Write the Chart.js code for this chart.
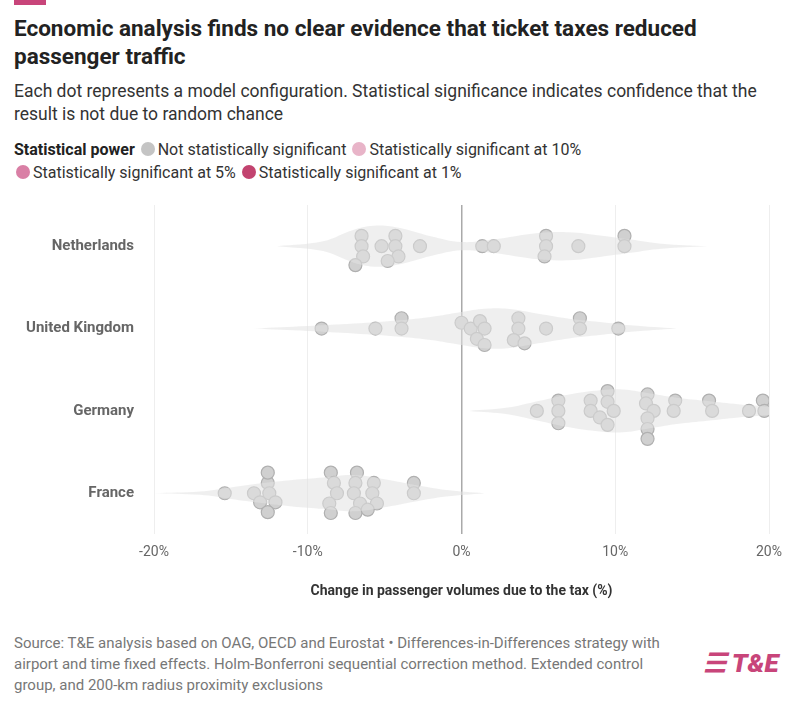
<!DOCTYPE html>
<html><head><meta charset="utf-8">
<script src="https://cdn.jsdelivr.net/npm/chart.js@4/dist/chart.umd.min.js"></script>
<style>
body{margin:0;width:800px;height:707px;font-family:Roboto,sans-serif;background:#fff;position:relative;overflow:hidden}
.bar{position:absolute;left:14px;top:0;width:32px;height:5px;background:#c8457a}
h1{position:absolute;left:14px;top:14px;margin:0;font-size:22.5px;line-height:28px;font-weight:700;color:#222;width:780px}
.sub{position:absolute;left:14px;top:80px;font-size:17.5px;line-height:23px;color:#333;width:760px}
.leg{position:absolute;left:14px;top:138px;font-size:16px;line-height:23px;color:#333;width:780px}
.leg b{color:#222}
.d{display:inline-block;width:14px;height:14px;border-radius:50%;vertical-align:-1px;margin:0 3px 0 2px}
#wrap{position:absolute;left:0;top:184px;width:800px;height:420px}
.src{position:absolute;left:14px;top:633px;font-size:15px;line-height:21px;color:#777;width:665px}
.logo{position:absolute;left:703px;top:648px;font-size:26px;font-weight:900;color:#c8457a;font-style:italic}
</style></head><body>
<div class="bar"></div>
<h1>Economic analysis finds no clear evidence that ticket taxes reduced passenger traffic</h1>
<div class="sub">Each dot represents a model configuration. Statistical significance indicates confidence that the result is not due to random chance</div>
<div class="leg"><b>Statistical power</b> <span class="d" style="background:#c4c4c4"></span>Not statistically significant <span class="d" style="background:#e8b4c8"></span>Statistically significant at 10%<br><span class="d" style="background:#d97fa5"></span>Statistically significant at 5% <span class="d" style="background:#c2436f"></span>Statistically significant at 1%</div>
<div id="wrap"><canvas id="c"></canvas></div>
<div class="src">Source: T&amp;E analysis based on OAG, OECD and Eurostat • Differences-in-Differences strategy with airport and time fixed effects. Holm-Bonferroni sequential correction method. Extended control group, and 200-km radius proximity exclusions</div>
<div class="logo">☰ T&amp;E</div>
<script>
const categories=["Netherlands","United Kingdom","Germany","France"];
const xTicks=[-20,-10,0,10,20];
const nlX=[-6.5,-6.5,-6.4,-6.9,-4.3,-4.3,-5.2,-4.1,-4.8,-2.7,1.35,2.1,5.5,5.5,5.4,7.6,10.6,10.6];
const nlOff=[-0.125,0,0.125,0.23,-0.125,0,0,0.125,0.18,0,0,0,-0.125,0,0.125,0,-0.125,0];
const ukX=[-9.1,-5.6,-3.9,-3.9,0,0.6,1.2,1.5,1.0,1.5,3.7,3.7,3.4,4.1,5.5,7.7,7.7,10.2];
const ukOff=[0,0,-0.125,0,-0.07,0,-0.09,0,0.125,0.2,-0.125,0,0.14,0.18,0,-0.125,0,0];
const deX=[4.9,6.3,6.3,6.3,8.4,8.4,9.0,9.5,9.5,9.9,9.5,12.1,12.0,12.5,12.1,12.1,12.1,13.9,13.8,16.1,16.3,18.7,19.6,19.7];
const deOff=[0,-0.125,0,0.15,-0.125,0,0.08,-0.24,-0.11,0,0.17,-0.2,-0.09,0,0.09,0.22,0.34,-0.125,0,-0.125,0,0,-0.125,0];
const frX=[-15.4,-13.5,-13.1,-12.6,-12.5,-12.6,-12.1,-12.6,-8.5,-8.3,-8.1,-8.6,-8.5,-6.8,-6.9,-7.0,-6.6,-6.9,-5.7,-5.8,-5.5,-6.1,-3.1,-3.1];
const frOff=[0,0,0.11,-0.125,0,-0.25,0.11,0.23,-0.25,-0.125,0,0.125,0.24,-0.25,-0.125,0,0.125,0.24,-0.125,0,0.125,0.2,-0.125,0];
const nlVx=[-12,-9,-7,-5.5,-4,-2,0,2,5,7,9,11,13,16];
const nlVw=[0,0.06,0.2,0.25,0.22,0.12,0.05,0.08,0.16,0.17,0.13,0.08,0.03,0];
const ukVx=[-13.5,-10,-7,-4,-2,0,1.5,3,5,7,9,11,14];
const ukVw=[0,0.03,0.06,0.1,0.14,0.2,0.24,0.24,0.18,0.12,0.08,0.04,0];
const deVx=[0.5,3,5,7,9,10.5,12,14,16,18,20];
const deVw=[0,0.04,0.12,0.2,0.25,0.26,0.22,0.16,0.12,0.08,0.05];
const frVx=[-20,-17,-15,-13,-11,-9,-7,-5,-3,-1,1.5];
const frVw=[0,0.02,0.07,0.12,0.16,0.19,0.22,0.17,0.1,0.04,0];

const ds=[];
[[nlVx,nlVw],[ukVx,ukVw],[deVx,deVw],[frVx,frVw]].forEach(([vx,vw],i)=>{
  ds.push({type:'line',data:vx.map((x,k)=>({x:x,y:i-vw[k]})),borderWidth:0,pointRadius:0,fill:false,tension:0.4,backgroundColor:'rgba(0,0,0,0)'});
  ds.push({type:'line',data:vx.map((x,k)=>({x:x,y:i+vw[k]})),borderWidth:0,pointRadius:0,fill:'-1',tension:0.4,backgroundColor:'rgba(225,225,225,0.55)'});
});
[[nlX,nlOff],[ukX,ukOff],[deX,deOff],[frX,frOff]].forEach(([xs,off],i)=>{
  ds.push({type:'scatter',data:xs.map((x,k)=>({x:x,y:i+off[k]})),pointRadius:6.5,backgroundColor:'#d0d0d0',borderColor:'#b0b0b0',borderWidth:1.2});
});
new Chart(document.getElementById('c'),{data:{datasets:ds},options:{
 responsive:true,maintainAspectRatio:false,animation:false,
 layout:{padding:{left:14,right:31,top:7,bottom:0}},
 plugins:{legend:{display:false},tooltip:{enabled:false}},
 scales:{
  x:{type:'linear',min:-20,max:20,afterBuildTicks:a=>{a.ticks=xTicks.map(v=>({value:v}))},
     ticks:{callback:v=>v+'%',color:'#666',font:{family:'Roboto',size:14},padding:10},
     grid:{color:c=>c.tick&&c.tick.value===0?'#aaa':'#eee',lineWidth:c=>c.tick&&c.tick.value===0?1.5:1,drawTicks:false},border:{display:false},
     title:{display:true,text:'Change in passenger volumes due to the tax (%)',color:'#333',font:{family:'Roboto',size:14,weight:'bold'},padding:{top:12}}},
  y:{type:'linear',min:-0.5,max:3.5,reverse:true,afterBuildTicks:a=>{a.ticks=categories.map((c,i)=>({value:i}))},
     ticks:{callback:v=>categories[v],color:'#666',font:{family:'Roboto',size:15,weight:'bold'},padding:12},
     grid:{display:false},border:{display:false}}
 }}});
</script>
</body></html>
